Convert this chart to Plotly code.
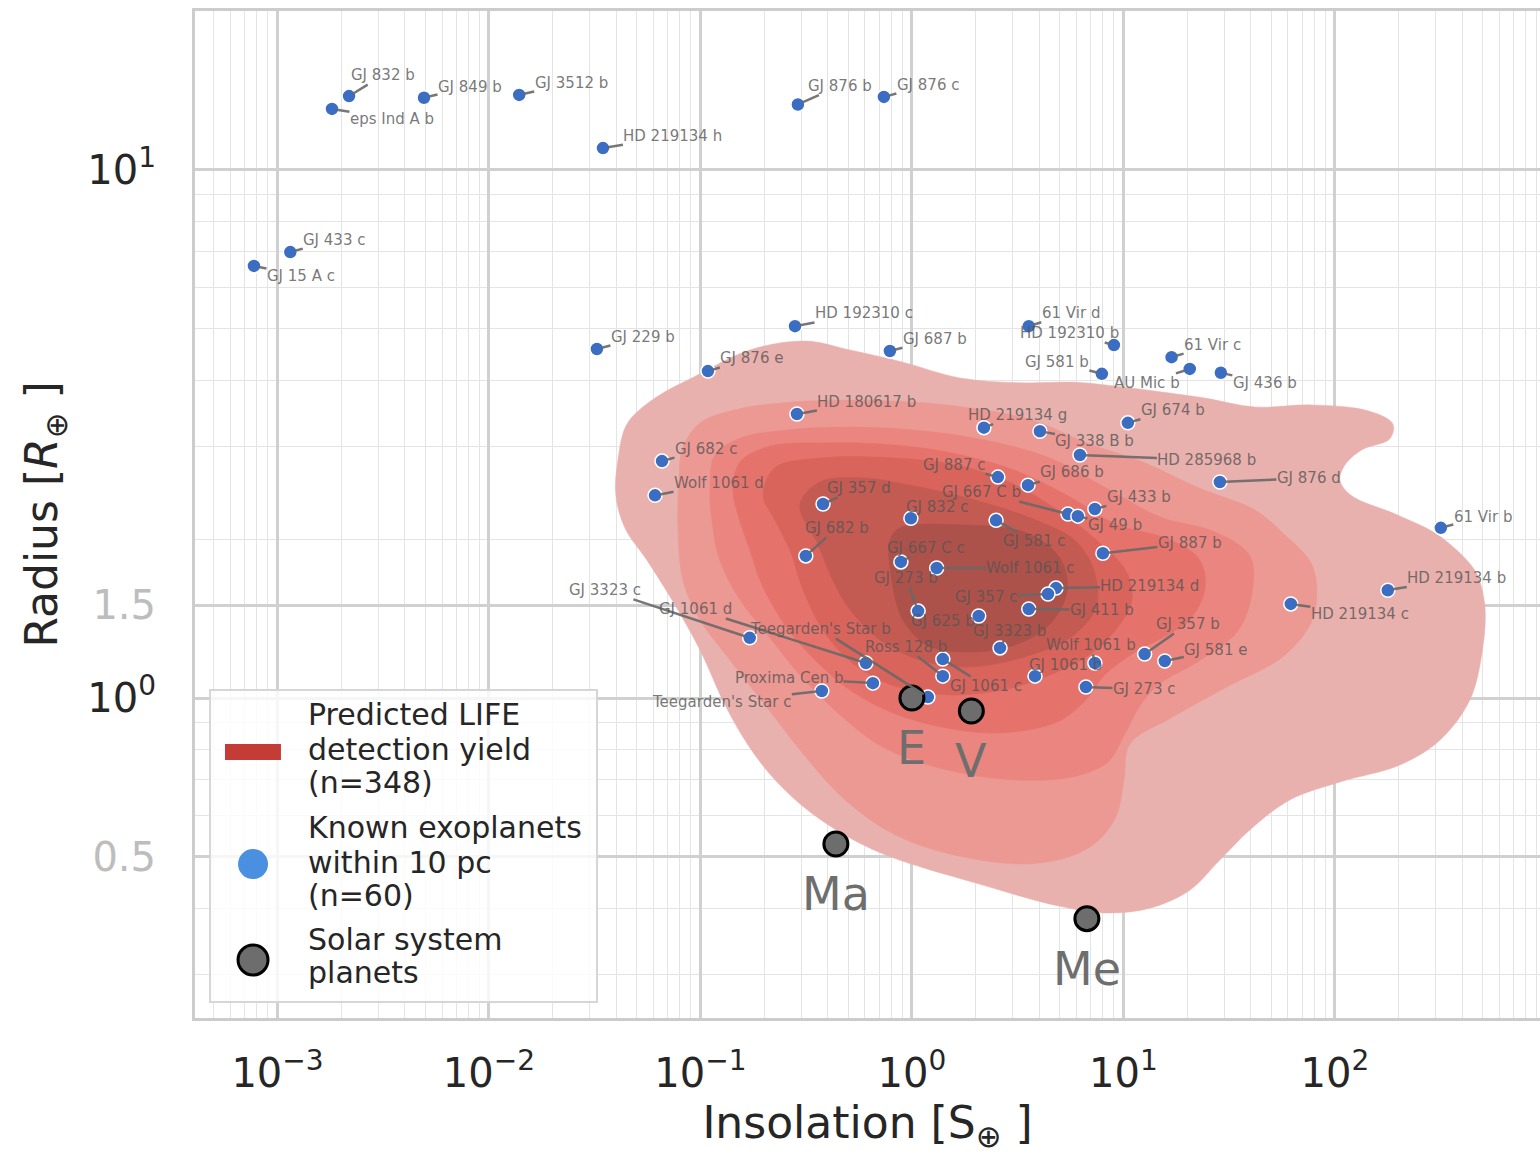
import numpy as np
import plotly.graph_objects as go

# ---------------- data ----------------
planet_names = [
    "GJ 832 b", "eps Ind A b", "GJ 849 b", "GJ 3512 b", "HD 219134 h", "GJ 876 b", "GJ 876 c",
    "GJ 433 c", "GJ 15 A c", "HD 192310 c", "GJ 229 b", "GJ 687 b", "GJ 876 e", "61 Vir d",
    "HD 192310 b", "GJ 581 b", "61 Vir c", "AU Mic b", "GJ 436 b", "HD 180617 b", "HD 219134 g",
    "GJ 338 B b", "GJ 674 b", "HD 285968 b", "GJ 682 c", "GJ 876 d", "Wolf 1061 d", "GJ 887 c",
    "GJ 686 b", "GJ 357 d", "GJ 667 C b", "GJ 433 b", "GJ 49 b", "GJ 832 c", "GJ 581 c",
    "GJ 682 b", "GJ 887 b", "GJ 667 C c", "Wolf 1061 c", "GJ 273 b", "HD 219134 d", "GJ 357 c",
    "GJ 411 b", "GJ 625 b", "GJ 3323 b", "GJ 3323 c", "GJ 1061 d", "Teegarden's Star b",
    "Ross 128 b", "Proxima Cen b", "Teegarden's Star c", "GJ 1061 c", "Wolf 1061 b", "GJ 1061 b",
    "GJ 273 c", "GJ 357 b", "GJ 581 e", "HD 219134 c", "HD 219134 b", "61 Vir b",
]
insolation = [
    0.00218, 0.00181, 0.00493, 0.0139, 0.0346, 0.289, 0.737,
    0.00115, 0.000774, 0.280, 0.0324, 0.787, 0.1085, 3.57,
    9.02, 7.91, 16.9, 20.6, 28.9, 0.286, 2.19,
    4.03, 10.5, 6.23, 0.0658, 28.6, 0.0610, 2.55,
    3.54, 0.380, 5.47, 7.33, 6.09, 0.989, 2.50,
    0.315, 8.0, 0.887, 1.31, 1.07, 4.80, 4.40,
    3.57, 2.07, 2.61, 0.171, 0.606, 1.19,
    1.40, 0.654, 0.375, 1.40, 7.33, 3.82,
    6.65, 12.6, 15.7, 61.9, 178.0, 317.0,
]
radius = [
    13.8, 13.05, 13.7, 13.87, 11.0, 13.3, 13.75,
    6.99, 6.58, 5.06, 4.58, 4.54, 4.16, 5.06,
    4.66, 4.11, 4.42, 4.20, 4.13, 3.45, 3.25,
    3.20, 3.32, 2.885, 2.81, 2.565, 2.42, 2.62,
    2.53, 2.33, 2.23, 2.28, 2.21, 2.19, 2.17,
    1.858, 1.88, 1.81, 1.763, 1.461, 1.615, 1.574,
    1.474, 1.43, 1.244, 1.30, 1.165, 1.004,
    1.10, 1.067, 1.031, 1.185, 1.165, 1.10,
    1.049, 1.211, 1.175, 1.507, 1.60, 2.10,
]

solar_names = ["E", "V", "Ma", "Me"]
solar_insolation = [1.0, 1.91, 0.437, 6.72]
solar_radius = [1.0, 0.945, 0.529, 0.382]

# KDE density levels of the predicted LIFE yield (outer -> inner), log10 space
kde_log_insolation = [
    [-1.400, -1.390, -1.347, -1.215, -1.031, -0.766, -0.506, -0.293, -0.043, 0.227, 0.501, 0.771,
     0.955, 1.173, 1.385, 1.622, 1.887, 2.156, 2.274, 2.260, 2.128, 2.047, 2.024, 2.076, 2.288,
     2.473, 2.605, 2.671, 2.709, 2.700, 2.638, 2.496, 2.307, 2.024, 1.787, 1.598, 1.456, 1.314,
     1.125, 0.908, 0.695, 0.298, -0.099, -0.293, -0.482, -0.648, -0.775, -0.884, -1.002, -1.135,
     -1.253, -1.357],
    [-1.102, -1.083, -1.002, -0.846, -0.610, -0.236, 0.165, 0.563, 0.827, 1.092, 1.357, 1.622,
     1.754, 1.887, 1.915, 1.887, 1.754, 1.489, 1.225, 1.031, 1.002, 0.960, 0.827, 0.563, 0.165,
     -0.104, -0.340, -0.530, -0.695, -0.861, -1.002, -1.083, -1.106],
    [-0.955, -0.931, -0.813, -0.577, -0.293, -0.009, 0.298, 0.643, 0.908, 1.173, 1.437, 1.598,
     1.608, 1.541, 1.357, 1.173, 1.078, 1.002, 0.927, 0.775, 0.482, 0.165, -0.128, -0.340,
     -0.530, -0.681, -0.813, -0.908, -0.946],
    [-0.846, -0.813, -0.671, -0.421, -0.151, 0.165, 0.482, 0.747, 0.960, 1.225, 1.362, 1.385,
     1.314, 1.225, 1.040, 0.908, 0.827, 0.695, 0.430, 0.165, -0.099, -0.293, -0.459, -0.600,
     -0.709, -0.766, -0.823],
    [-0.704, -0.648, -0.421, -0.099, 0.217, 0.482, 0.695, 0.879, 1.012, 1.040, 0.960, 0.827,
     0.643, 0.430, 0.165, -0.099, -0.288, -0.421, -0.515, -0.577, -0.648],
    [-0.530, -0.435, -0.246, -0.009, 0.298, 0.586, 0.775, 0.861, 0.870, 0.747, 0.534, 0.270,
     0.038, -0.151, -0.293, -0.374, -0.444],
    [-0.104, -0.057, 0.227, 0.544, 0.700, 0.733, 0.638, 0.463, 0.260, 0.071, -0.043, -0.090],
]
kde_log_radius = [
    [0.384, 0.451, 0.519, 0.568, 0.608, 0.659, 0.676, 0.659, 0.636, 0.606, 0.597, 0.598,
     0.591, 0.580, 0.568, 0.551, 0.555, 0.544, 0.519, 0.491, 0.470, 0.441, 0.413, 0.384, 0.348,
     0.3125, 0.269, 0.235, 0.176, 0.097, -0.004, -0.080, -0.127, -0.159, -0.193, -0.250, -0.307,
     -0.364, -0.398, -0.407, -0.394, -0.350, -0.301, -0.265, -0.216, -0.155, -0.089, -0.013,
     0.091, 0.186, 0.261, 0.322],
    [0.413, 0.475, 0.521, 0.545, 0.559, 0.564, 0.555, 0.527, 0.483, 0.447, 0.398, 0.356,
     0.3125, 0.256, 0.199, 0.142, 0.078, 0.021, -0.038, -0.087, -0.157, -0.229, -0.286, -0.314,
     -0.294, -0.254, -0.184, -0.098, -0.013, 0.072, 0.148, 0.223, 0.318],
    [0.403, 0.460, 0.492, 0.508, 0.513, 0.508, 0.492, 0.456, 0.400, 0.343, 0.314, 0.269,
     0.199, 0.127, 0.070, 0.027, -0.015, -0.072, -0.121, -0.148, -0.155, -0.136, -0.095,
     -0.032, 0.044, 0.119, 0.186, 0.261, 0.337],
    [0.394, 0.447, 0.477, 0.483, 0.481, 0.466, 0.432, 0.381, 0.330, 0.299, 0.261, 0.205,
     0.148, 0.123, 0.083, 0.042, -0.002, -0.044, -0.066, -0.057, -0.027, 0.015, 0.072, 0.138,
     0.214, 0.280, 0.347],
    [0.384, 0.436, 0.455, 0.455, 0.441, 0.405, 0.354, 0.297, 0.241, 0.184, 0.127, 0.078,
     0.042, 0.015, 0.006, 0.025, 0.068, 0.129, 0.205, 0.280, 0.337],
    [0.366, 0.409, 0.417, 0.403, 0.375, 0.337, 0.297, 0.241, 0.170, 0.114, 0.078, 0.059,
     0.072, 0.110, 0.167, 0.223, 0.290],
    [0.299, 0.322, 0.328, 0.3125, 0.265, 0.199, 0.134, 0.097, 0.087, 0.100, 0.148, 0.210],
]

x_tick_values = [1e-3, 1e-2, 1e-1, 1.0, 10.0, 100.0]
x_tick_text = ["10<sup>−3</sup>", "10<sup>−2</sup>", "10<sup>−1</sup>", "10<sup>0</sup>",
               "10<sup>1</sup>", "10<sup>2</sup>"]
y_tick_values = [0.5, 1.0, 1.5, 10.0]
y_tick_text = ['<span style="color:#bdbdbd">0.5</span>', "10<sup>0</sup>",
               '<span style="color:#bdbdbd">1.5</span>', "10<sup>1</sup>"]

legend_lines = [["Predicted LIFE", "detection yield", "(n=348)"],
                ["Known exoplanets", "within 10 pc", "(n=60)"],
                ["Solar system", "planets"]]

# ---------------- styling / layout (not data) ----------------
label_offsets = [
    (34, -21), (60, 10), (46, -11), (52, -12), (70, -12), (42, -19), (44, -12),
    (44, -12), (47, 10), (69, -13), (46, -12), (45, -12), (44, -13), (42, -13),
    (-44, -12), (-45, -12), (41, -12), (-43, 14), (44, 10), (70, -12), (34, -13),
    (55, 10), (45, -13), (127, 5), (44, -12), (89, -4), (64, -12), (-44, -12),
    (44, -13), (36, -16), (-86, -22), (44, -12), (37, 9), (26, -11), (38, 21),
    (31, -28), (87, -10), (25, -14), (94, 0), (-12, -33), (94, -2), (-62, 3),
    (73, 1), (-36, 5), (9, -17), (-145, -48), (-170, -54), (-107, -68),
    (-37, -29), (-84, -5), (-100, 11), (43, 27), (-4, -18), (30, -11),
    (58, 2), (43, -30), (51, -11), (69, 10), (69, -12), (42, -11),
]
level_colors = ["#e9b1ad", "#ec9893", "#eb857f", "#e5736b", "#d8645c", "#c45b53", "#ad524b"]
FONT = "DejaVu Sans"

fig = go.Figure()

for lx, ly, col in zip(kde_log_insolation, kde_log_radius, level_colors):
    xs = np.power(10.0, np.array(lx + lx[:1]))
    ys = np.power(10.0, np.array(ly + ly[:1]))
    fig.add_trace(go.Scatter(
        x=xs, y=ys, mode="lines", fill="toself", fillcolor=col,
        line=dict(color=col, width=0.5, shape="spline", smoothing=1.0),
        hoverinfo="skip", showlegend=False))

fig.add_trace(go.Scatter(
    x=insolation, y=radius, mode="markers", text=planet_names,
    marker=dict(size=14, color="#3b6ec2", line=dict(color="white", width=1.5)),
    showlegend=False, hoverinfo="text"))

fig.add_trace(go.Scatter(
    x=solar_insolation, y=solar_radius, mode="markers", text=solar_names,
    marker=dict(size=24, color="#6d6d6d", line=dict(color="black", width=3)),
    showlegend=False, hoverinfo="text"))

annotations = []
for name, s, r, (ax, ay) in zip(planet_names, insolation, radius, label_offsets):
    annotations.append(dict(
        x=np.log10(s), y=np.log10(r), xref="x", yref="y", text=name,
        showarrow=True, ax=ax, ay=ay, axref="pixel", ayref="pixel",
        arrowhead=0, arrowwidth=2.5, arrowcolor="rgba(105,105,105,0.9)", standoff=5,
        xanchor="center", yanchor="middle", borderpad=0,
        font=dict(family=FONT, size=15, color="rgba(85,85,85,0.8)")))

for name, s, r in zip(solar_names, solar_insolation, solar_radius):
    annotations.append(dict(
        x=np.log10(s), y=np.log10(r), xref="x", yref="y", text=name, showarrow=False,
        yshift=-50, xanchor="center", yanchor="middle",
        font=dict(family=FONT, size=46, color="#6e6e6e")))

# custom legend
legend_line_y = [[0.3009, 0.2671, 0.2334], [0.1887, 0.1549, 0.1221], [0.0775, 0.0447]]
for lines, ys in zip(legend_lines, legend_line_y):
    for txt, yy in zip(lines, ys):
        annotations.append(dict(
            x=0.0825, y=yy, xref="paper", yref="paper", text=txt, showarrow=False,
            xanchor="left", yanchor="middle",
            font=dict(family=FONT, size=30, color="#262626")))

shapes = [
    dict(type="rect", xref="paper", yref="paper", x0=0.0112, x1=0.2989, y0=0.0159, y1=0.3257,
         fillcolor="rgba(255,255,255,0.8)", line=dict(color="#d6d6d6", width=2), layer="above"),
    dict(type="rect", xref="paper", yref="paper", x0=0.0223, x1=0.0639, y0=0.2562, y1=0.2721,
         fillcolor="#c43c35", line=dict(width=0), layer="above"),
    dict(type="circle", xref="paper", yref="paper", x0=0.0320, x1=0.0543, y0=0.1380, y1=0.1678,
         fillcolor="#4a8fe0", line=dict(width=0), layer="above"),
    dict(type="circle", xref="paper", yref="paper", x0=0.0320, x1=0.0543, y0=0.0427, y1=0.0725,
         fillcolor="#6d6d6d", line=dict(color="black", width=3), layer="above"),
]

x_minor = [k * 10.0 ** d for d in range(-4, 3) for k in range(2, 10)
           if 10 ** -3.39 < k * 10.0 ** d < 10 ** 2.97]
y_minor = [k * 10.0 ** d for d in range(-1, 1) for k in range(2, 10)
           if 10 ** -0.606 < k * 10.0 ** d < 10 ** 1.301 and abs(k * 10.0 ** d - 0.5) > 1e-9]

fig.update_layout(
    width=1540, height=1154,
    margin=dict(l=195, r=0, t=11, b=136),
    plot_bgcolor="white", paper_bgcolor="white",
    font=dict(family=FONT, color="#262626"),
    annotations=annotations, shapes=shapes,
    showlegend=False,
)
fig.update_xaxes(
    type="log", range=[-3.39, 2.97], tickvals=x_tick_values, ticktext=x_tick_text,
    tickfont=dict(size=40, color="#262626"), ticks="", ticklabelstandoff=18,
    showgrid=True, gridcolor="#d0d0d0", gridwidth=2.5,
    minor=dict(tickvals=x_minor, showgrid=True, gridcolor="#e4e4e4", gridwidth=1, ticks=""),
    showline=True, mirror=True, linecolor="#cccccc", linewidth=3, zeroline=False,
    title=dict(text="Insolation [S<sub>⊕</sub> ]", font=dict(size=44, color="#262626"), standoff=28),
    automargin=False)
fig.update_yaxes(
    type="log", range=[-0.606, 1.301], tickvals=y_tick_values, ticktext=y_tick_text,
    tickfont=dict(size=40, color="#262626"), ticks="", ticklabelstandoff=28,
    showgrid=True, gridcolor="#d0d0d0", gridwidth=2.5,
    minor=dict(tickvals=y_minor, showgrid=True, gridcolor="#e4e4e4", gridwidth=1, ticks=""),
    showline=True, mirror=True, linecolor="#cccccc", linewidth=3, zeroline=False,
    title=dict(text="Radius [<i>R</i><sub>⊕</sub> ]", font=dict(size=44, color="#262626"), standoff=16),
    automargin=False)

fig.write_html("out.html", config={"displayModeBar": False},
               post_script="document.body.style.margin='0';")
